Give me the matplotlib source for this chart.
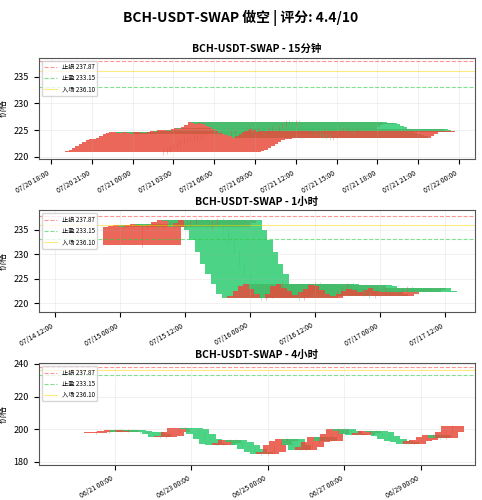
import numpy as np
import pandas as pd
import matplotlib
matplotlib.use('Agg')
import matplotlib.pyplot as plt
import matplotlib.dates as mdates

plt.rcParams['font.family'] = ['Noto Sans CJK SC', 'DejaVu Sans']
plt.rcParams['axes.unicode_minus'] = False

# 止损 / 止盈 / 入场
stop_loss = 237.87
take_profit = 233.15
entry = 236.10

# 15分钟 收盘价 (开盘价 = 上一根收盘价)
open15_0 = 220.8
close15 = [221.0, 221.3, 221.6, 222.0, 222.4, 222.8, 223.1, 223.3, 223.4, 223.6, 223.9, 224.2,
           224.5, 224.6, 224.6, 224.5, 224.4, 224.6, 224.5, 224.3, 224.6, 224.7, 224.5, 224.4,
           224.6, 224.8, 224.7, 225.0, 225.1, 225.0, 224.9, 225.2, 225.4, 225.2, 225.6, 226.0,
           226.5, 226.3, 226.1, 226.4, 226.2, 225.8, 225.5, 225.2, 224.8, 224.5, 224.2, 224.0,
           223.8, 223.6, 223.9, 224.3, 224.6, 224.9, 225.2, 225.0, 224.7, 224.8]
start15 = '2025-07-21 02:15'

# 1小时
open1h_0 = 232.0
close1h = [235.5, 235.8, 236.0, 235.6, 235.9, 236.2, 236.0, 235.7, 236.1, 236.6, 237.0, 236.8,
           235.5, 236.5, 237.0, 235.0, 233.0, 230.5, 228.0, 226.0, 224.0, 222.0, 221.0, 221.5,
           222.5, 223.5, 224.0, 223.0, 222.0, 221.0, 222.0, 223.5, 224.0, 223.2, 222.5, 221.8,
           222.3, 223.0, 223.8, 223.5, 222.8, 222.0, 221.5, 222.0, 222.6, 223.0, 222.7, 222.3,
           222.8, 223.2, 222.6, 222.3]
start1h = '2025-07-15 04:00'

# 4小时
open4h_0 = 197.5
close4h = [198.5, 198.0, 199.0, 199.5, 198.5, 199.5, 199.0, 198.0, 198.5, 197.0, 195.0, 196.0,
           198.0, 200.5, 201.0, 200.0, 197.0, 194.0, 191.0, 190.5, 191.5, 193.5, 192.0, 190.0,
           188.0, 186.0, 184.5, 186.0, 190.0, 193.0, 194.0, 190.0, 187.5, 189.0, 192.0, 195.0,
           193.0, 197.0, 200.0, 199.0, 197.0, 196.5, 197.5, 199.0, 198.0, 196.0, 194.0, 193.0,
           192.0, 191.0, 192.5, 193.5, 195.0, 196.5, 194.5, 198.0, 202.0]
start4h = '2025-06-20 12:00'

panels = [
    ('BCH-USDT-SWAP - 15分钟', open15_0, close15, start15, '15min', (219.5, 238.6),
     [220, 225, 230, 235], ('2025-07-20 17:05', '2025-07-22 01:10')),
    ('BCH-USDT-SWAP - 1小时', open1h_0, close1h, start1h, '1h', (218.2, 239.0),
     [220, 225, 230, 235], ('2025-07-14 09:00', '2025-07-17 17:30')),
    ('BCH-USDT-SWAP - 4小时', open4h_0, close4h, start4h, '4h', (178, 240.5),
     [180, 200, 220, 240], ('2025-06-19 00:00', '2025-06-30 10:00')),
]

fig, axes = plt.subplots(3, 1, figsize=(4.82, 5.0), dpi=100)
fig.suptitle('BCH-USDT-SWAP 做空 | 评分: 4.4/10', fontsize=10, fontweight='bold')

for ax, (title, o0, closes, start, freq, ylim, yt, xl) in zip(axes, panels):
    closes = np.array(closes)
    opens = np.concatenate([[o0], closes[:-1]])
    times = pd.date_range(start, periods=len(closes), freq=freq)
    x = mdates.date2num(times)
    up = closes >= opens
    colors = np.where(up, '#e74c3c', '#2ecc71')
    hi = np.maximum(opens, closes)
    lo = np.minimum(opens, closes)
    ax.vlines(x, lo - 0.4, hi + 0.4, colors=colors, alpha=0.4, linewidth=0.6)
    ax.bar(x, closes - opens, bottom=opens, width=0.6, color=colors, alpha=0.85)

    ax.axhline(stop_loss, color='#ff4d4d', linestyle='--', alpha=0.6, linewidth=0.8, label=f'止损 {stop_loss:.2f}')
    ax.axhline(take_profit, color='#2ecc40', linestyle='--', alpha=0.6, linewidth=0.8, label=f'止盈 {take_profit:.2f}')
    ax.axhline(entry, color='#ffd700', linestyle='-', alpha=0.5, linewidth=0.8, label=f'入场 {entry:.2f}')

    ax.set_title(title, fontsize=7.5, fontweight='bold', pad=4)
    ax.set_ylabel('价格', fontsize=6.5)
    ax.set_xlim(mdates.datestr2num(xl[0]), mdates.datestr2num(xl[1]))
    ax.set_ylim(*ylim)
    ax.set_yticks(yt)
    ax.tick_params(axis='y', labelsize=6.5)
    ax.tick_params(axis='x', labelsize=5)
    ax.grid(True, alpha=0.3, linewidth=0.4)
    for s in ax.spines.values():
        s.set_color('#555555')
    ax.legend(loc='upper left', fontsize=4.5, framealpha=0.8)
    ax.xaxis.set_major_formatter(mdates.DateFormatter('%m/%d %H:%M'))

axes[0].xaxis.set_major_locator(mdates.HourLocator(byhour=range(0, 24, 3)))
axes[1].xaxis.set_major_locator(mdates.HourLocator(byhour=[0, 12]))
axes[2].xaxis.set_major_locator(mdates.DayLocator(bymonthday=[21, 23, 25, 27, 29]))
for ax in axes:
    for lab in ax.get_xticklabels():
        lab.set_rotation(30)
        lab.set_ha('right')

plt.subplots_adjust(left=0.08, right=0.985, top=0.885, bottom=0.07, hspace=0.5)
plt.savefig('out.png', dpi=100)
